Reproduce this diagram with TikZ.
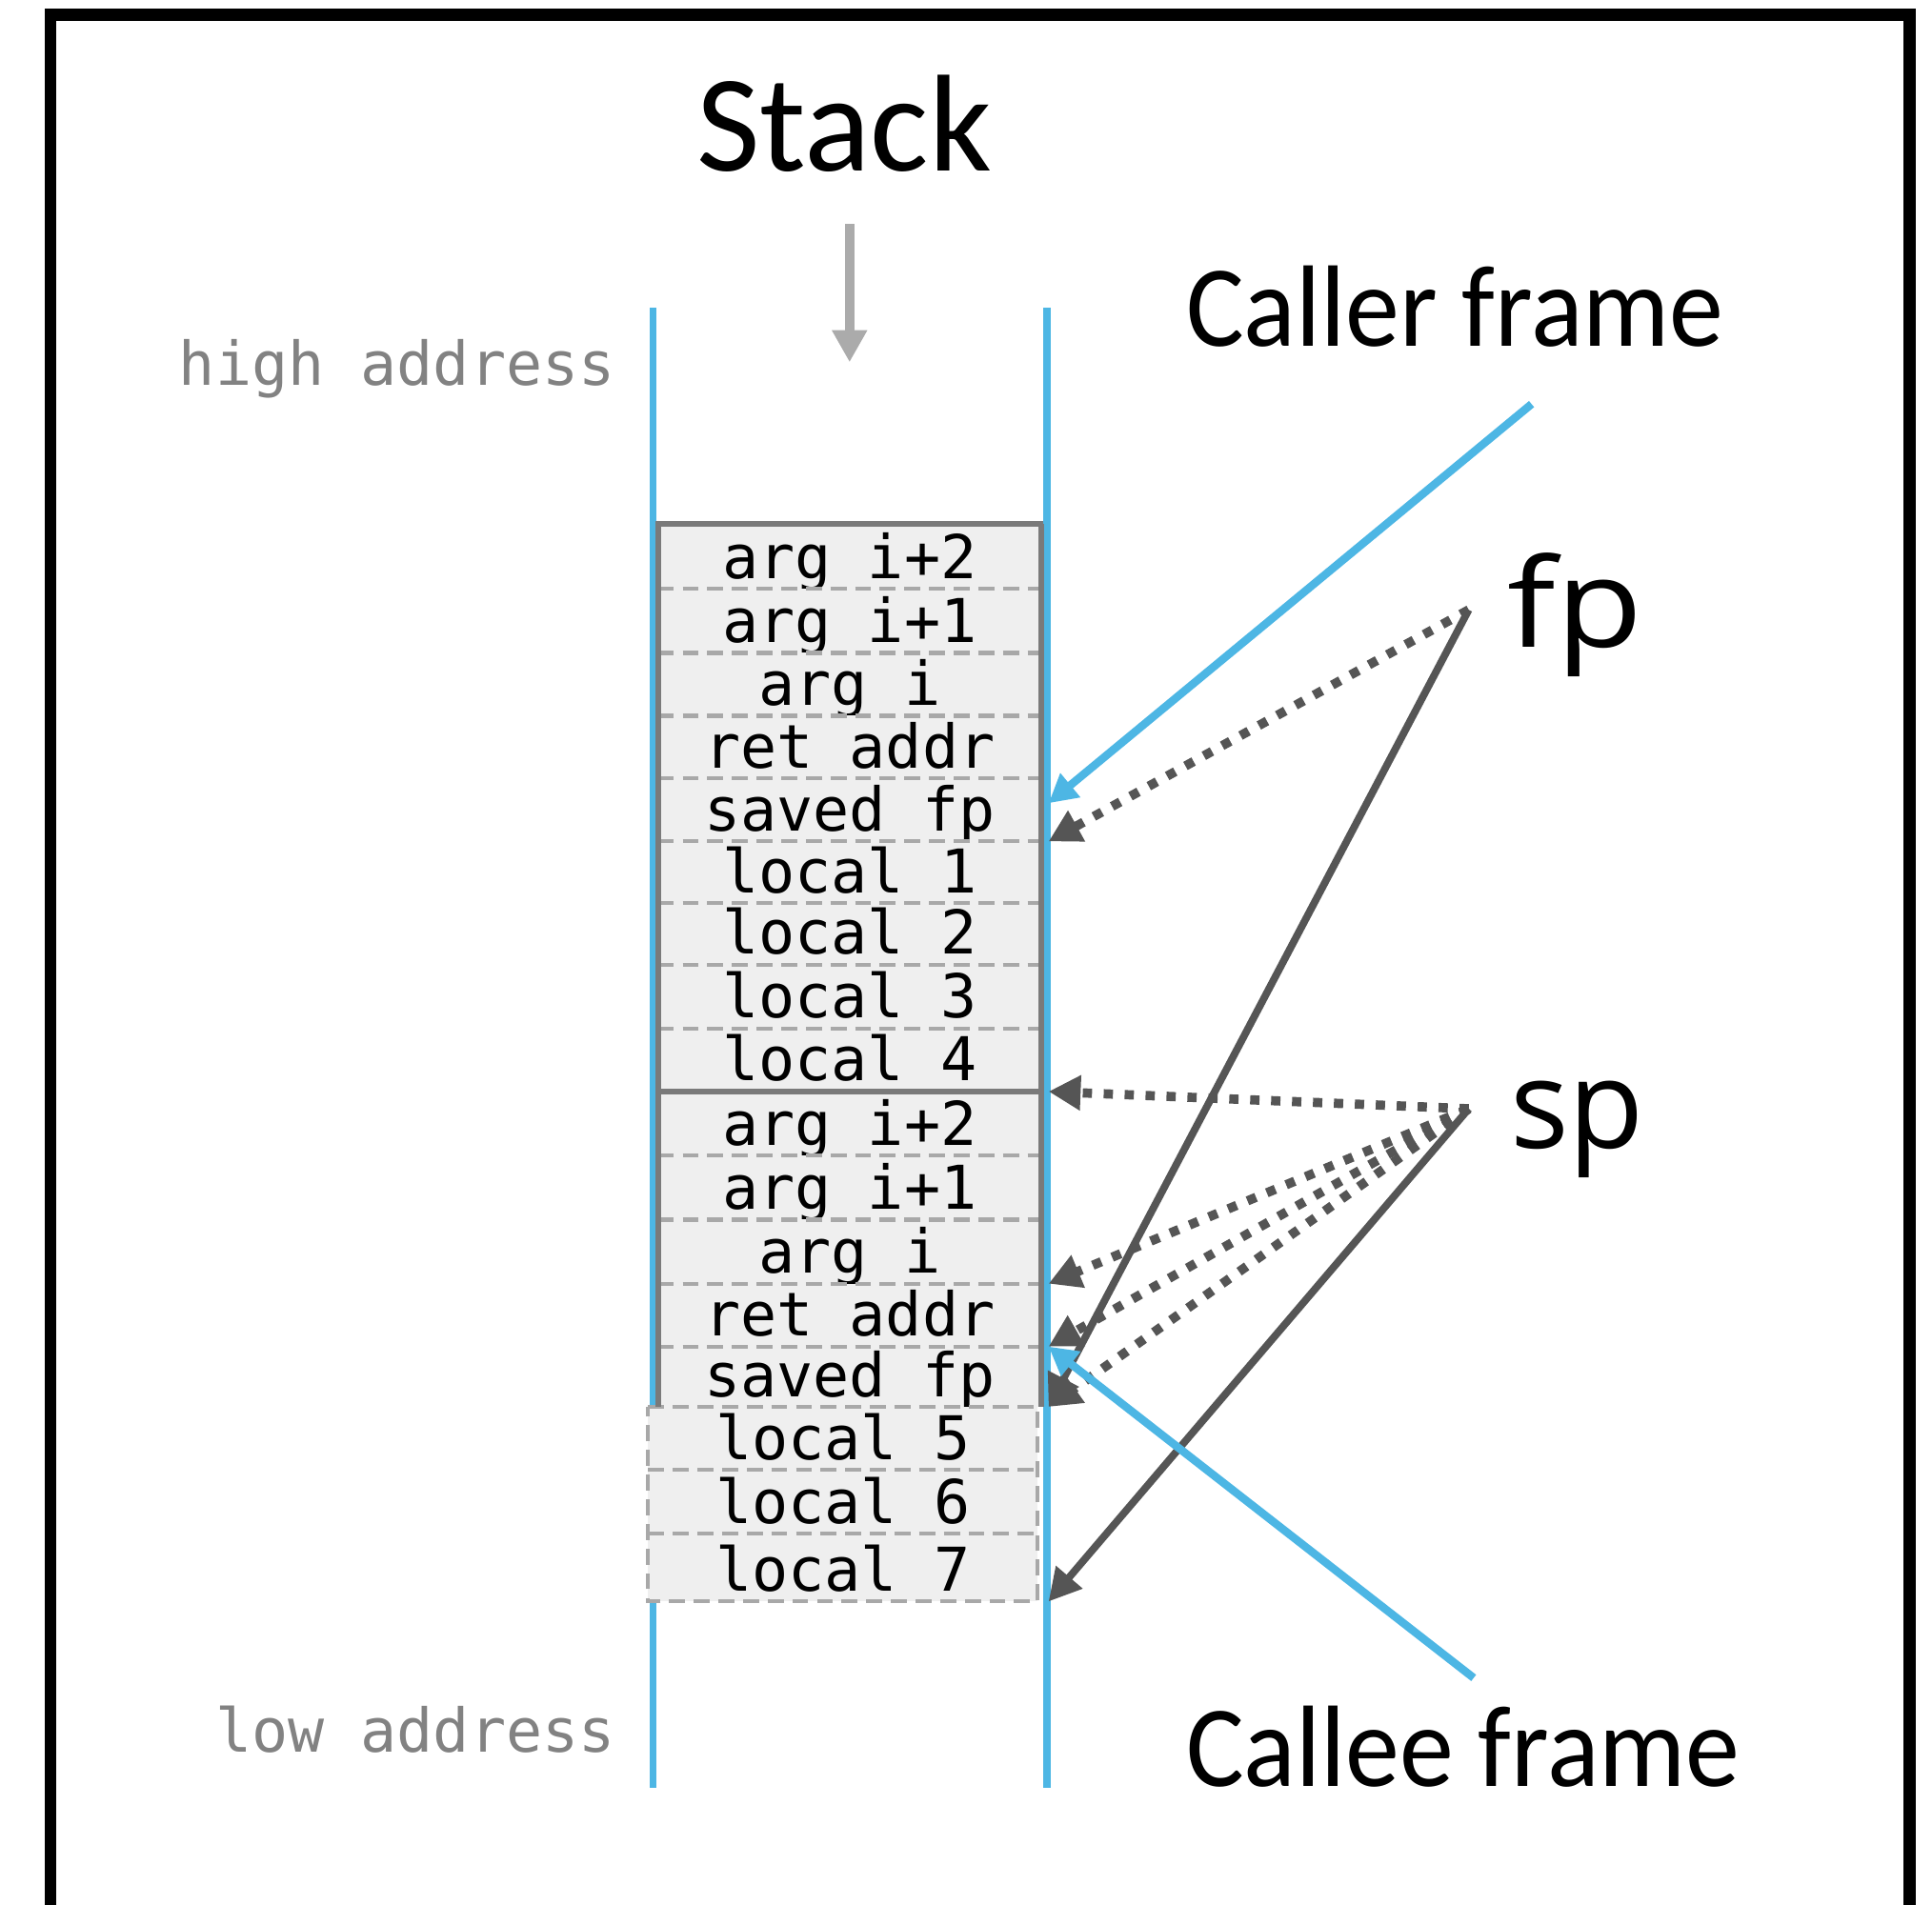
\documentclass[tikz,border=0pt]{standalone}
\usepackage{fontspec}
\usetikzlibrary{arrows.meta,calc}
\newfontfamily\carlito{Carlito}
\newfontfamily\osans{Open Sans}
\newfontfamily\dmono{DejaVu Sans Mono}
\definecolor{stackblue}{HTML}{4DB6E4}
\definecolor{cellfill}{HTML}{EFEFEF}
\definecolor{framegray}{HTML}{7A7A7A}
\definecolor{sepgray}{HTML}{A8A8A8}
\definecolor{darkarrow}{HTML}{555555}
\definecolor{lightarrow}{HTML}{ABABAB}
\definecolor{addrgray}{HTML}{828282}
\begin{document}
\begin{tikzpicture}[x=1pt,y=-1pt,
  upcell/.style={rectangle,fill=cellfill,draw=none,minimum width=311pt,inner sep=0pt,outer sep=0pt},
  lowcell/.style={rectangle,fill=cellfill,draw=none,minimum width=316pt,inner sep=0pt,outer sep=0pt},
  celltext/.style={anchor=base,inner sep=0pt,font=\dmono\fontsize{49}{58}\selectfont},
  addrtext/.style={anchor=base east,inner sep=0pt,text=addrgray,font=\dmono\fontsize{49}{58}\selectfont},
  bigtext/.style={inner sep=0pt,font=\carlito\fontsize{94}{100}\selectfont},
  ptrtext/.style={anchor=base west,inner sep=0pt,font=\osans\fontsize{100}{110}\selectfont},
  sepline/.style={draw=sepgray,line width=3.2pt,dash pattern=on 13pt off 7pt},
  framesolid/.style={draw=framegray,line width=4.5pt},
  stackwall/.style={draw=stackblue,line width=6pt},
  bluearrow/.style={draw=stackblue,line width=6.5pt,-{Triangle[length=23pt,width=24pt]}},
  solidptr/.style={draw=darkarrow,line width=6pt,-{Triangle[length=26pt,width=27pt]}},
  dotptr/.style={draw=darkarrow,line width=7.5pt,dash pattern=on 7.5pt off 9.5pt,-{Triangle[length=26pt,width=27pt]}},
  growarrow/.style={draw=lightarrow,line width=7.7pt,-{Triangle[length=26pt,width=27pt]}}
]
\useasboundingbox (0,0) rectangle (1568,1546);
% outer frame
\draw[line width=10pt,black,line join=miter] (41,1546) -- (41,12.3) -- (1550,12.3) -- (1550,1546);

% stack walls
\coordinate (wallLtop) at (530,250);
\coordinate (wallLbot) at (530,1451);
\coordinate (wallRtop) at (850,250);
\coordinate (wallRbot) at (850,1451);
\draw[stackwall] (wallLtop) -- (wallLbot);
\draw[stackwall] (wallRtop) -- (wallRbot);

% upper cells (caller frame + pushed args)
\foreach \i/\t/\b/\txt in {1/425/478/arg i+2, 2/478/530/arg i+1, 3/530/581/arg i,
  4/581/632/ret addr, 5/632/683/saved fp, 6/683/733/local 1, 7/733/783/local 2,
  8/783/835/local 3, 9/835/886/local 4, 10/886/938/arg i+2, 11/938/990/arg i+1,
  12/990/1042/arg i, 13/1042/1093/ret addr, 14/1093/1142/saved fp}{
  \pgfmathsetmacro{\hh}{\b-\t}
  \node[upcell,minimum height=\hh pt] (c\i) at (689.5,{(\t+\b)/2}) {};
  \node[celltext] (t\i) at (689.5,\b-8.5) {\txt};
}
% lower cells (callee locals)
\foreach \i/\t/\b/\txt in {15/1142/1193/local 5, 16/1193/1245/local 6, 17/1245/1300/local 7}{
  \pgfmathsetmacro{\hh}{\b-\t}
  \node[lowcell,minimum height=\hh pt] (c\i) at (684,{(\t+\b)/2}) {};
  \node[celltext] (t\i) at (684,\b-8.5) {\txt};
}

% dashed separators
\foreach \i in {1,2,3,4,5,6,7,8,10,11,12,13}{
  \draw[sepline] (c\i.south west) -- (c\i.south east);
}
\foreach \i in {15,16}{
  \draw[sepline] (c\i.south west) -- (c\i.south east);
}
\draw[sepline] (c15.north west) -- (c15.north east) -- (c17.south east) -- (c17.south west) -- cycle;

% solid frame of the upper block
\draw[framesolid] ($(c1.north west)+(-2,0)$) -- ($(c1.north east)+(2,0)$);
\draw[framesolid] (c1.north west) -- (c14.south west);
\draw[framesolid] (c1.north east) -- (c14.south east);
\draw[framesolid] (c9.south west) -- (c9.south east);

% titles and labels
\node[inner sep=0pt,anchor=base,font=\carlito\fontsize{112}{120}\selectfont] (title) at (685,138.6) {Stack};
\node[addrtext] (high) at (499.5,313) {high address};
\node[addrtext] (low) at (499.5,1422.6) {low address};
\node[bigtext,anchor=base west] (caller) at (962.5,281.4) {\scalebox{0.937}[1]{Caller frame}};
\node[bigtext,anchor=base west] (callee) at (962.5,1449.7) {\scalebox{0.937}[1]{Callee frame}};
\node[ptrtext] (fp) at (1223.5,525) {\scalebox{1.15}[1]{fp}};
\node[ptrtext] (sp) at (1225.5,932.4) {sp};

% growth arrow
\coordinate (growtop) at (689.5,182);
\coordinate (growtip) at (689.5,294);
\draw[growarrow] (growtop) -- (growtip);

% pointer sources and targets
\coordinate (fpsrc) at (1192,495);
\coordinate (spsrc) at (1192,900);
\coordinate (callerend) at (1243,328);
\coordinate (calleeend) at (1196,1362);
\coordinate (at652) at (851,652);
\coordinate (at683) at (851,683);
\coordinate (at886) at (851,886);
\coordinate (at1042) at (851,1042);
\coordinate (at1093) at (851,1093);
\coordinate (at1142) at (851,1142);
\coordinate (at1300) at (851,1300);

\draw[dotptr] (fpsrc) -- (at683);
\draw[solidptr] (fpsrc) -- (at1142);
\draw[dotptr] (spsrc) -- (at886);
\draw[dotptr] (spsrc) -- (at1042);
\draw[dotptr] (spsrc) -- (at1093);
\draw[dotptr] (spsrc) -- (at1142);
\draw[solidptr] (spsrc) -- (at1300);
\draw[bluearrow] (callerend) -- (at652);
\draw[bluearrow] (calleeend) -- (at1093);
\end{tikzpicture}
\end{document}
